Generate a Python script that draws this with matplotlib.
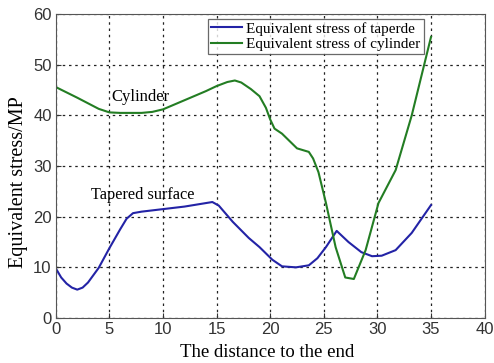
import numpy as np
import matplotlib
matplotlib.use("Agg")
import matplotlib.pyplot as plt

# Equivalent stress of the tapered surface
x_taper = [0, 0.5, 1, 1.5, 2, 2.5, 3, 4, 5, 6, 6.6, 7.2, 8, 10, 12, 14.6, 15.2, 16.5, 18, 19, 20.2, 21.1, 22.4,
           23.6, 24.4, 25.2, 26.2, 27.3, 28.5, 29.5, 30.4, 31.7, 33.2, 35]
y_taper = [9.8, 8.0, 6.8, 6.0, 5.6, 6.0, 7.0, 9.9, 13.8, 17.5, 19.6, 20.7, 21.0, 21.5, 22.0, 22.9, 22.2, 19.0, 15.8,
           14.0, 11.5, 10.2, 10.0, 10.4, 11.8, 14.0, 17.2, 15.0, 13.0, 12.2, 12.3, 13.4, 16.8, 22.3]

# Equivalent stress of the cylinder
x_cyl = [0, 2, 4, 5, 6, 7, 8, 9, 10, 12, 14, 15, 16, 16.7, 17.3, 18.2, 19, 19.6, 20.0, 20.4, 21.1, 22.5, 23.6, 24.0,
         24.5, 25.2, 26.1, 27.0, 27.8, 28.9, 30.1, 31.7, 33.2, 35]
y_cyl = [45.6, 43.5, 41.3, 40.6, 40.5, 40.5, 40.5, 40.7, 41.2, 43.0, 44.8, 45.8, 46.6, 46.9, 46.5, 45.2, 43.8,
         41.5, 39.2, 37.4, 36.4, 33.5, 32.8, 31.5, 28.8, 22.7, 14.0, 8.0, 7.7, 13.4, 22.7, 29.2, 40.0, 55.5]

fig = plt.figure(figsize=(4.94, 3.63), dpi=100)
ax = fig.add_axes([0.113, 0.124, 0.868, 0.837])

ax.plot(x_taper, y_taper, color="#2323a6", lw=1.5, label="Equivalent stress of taperde")
ax.plot(x_cyl, y_cyl, color="#237d23", lw=1.5, label="Equivalent stress of cylinder")

ax.set_xlim(0, 40)
ax.set_ylim(0, 60)
ax.set_xticks(np.arange(0, 41, 5))
ax.set_yticks(np.arange(0, 61, 10))
ax.grid(True, linestyle=(0, (2, 3)), color="#222222", lw=0.9)
ax.tick_params(direction="in", labelsize=12, colors="#333333", labelcolor="#333333", pad=3)
for s in ax.spines.values():
    s.set_color("#555555")
for t in ax.get_xticklabels() + ax.get_yticklabels():
    t.set_family("Liberation Sans")

ax.set_xlabel("The distance to the end", family="Liberation Serif", fontsize=13.5)
ax.xaxis.set_label_coords(0.493, -0.085)
ax.set_ylabel("Equivalent stress/MP", family="Liberation Serif", fontsize=14.5)
ax.yaxis.set_label_coords(-0.066, 0.446)

ax.text(7.9, 43.6, "Cylinder", family="Liberation Serif", fontsize=12, ha="center", va="center")
ax.text(8.1, 24.3, "Tapered surface", family="Liberation Serif", fontsize=11.7, ha="center", va="center")

leg = ax.legend(loc="upper right", bbox_to_anchor=(0.858, 0.985), prop={"family": "Liberation Serif", "size": 11},
                frameon=True, fancybox=False, borderpad=0.2, labelspacing=0.1, handlelength=2.0,
                handletextpad=0.3, borderaxespad=0)
leg.get_frame().set_edgecolor("#444444")
leg.get_frame().set_linewidth(0.9)

fig.savefig("out.png", dpi=100)
